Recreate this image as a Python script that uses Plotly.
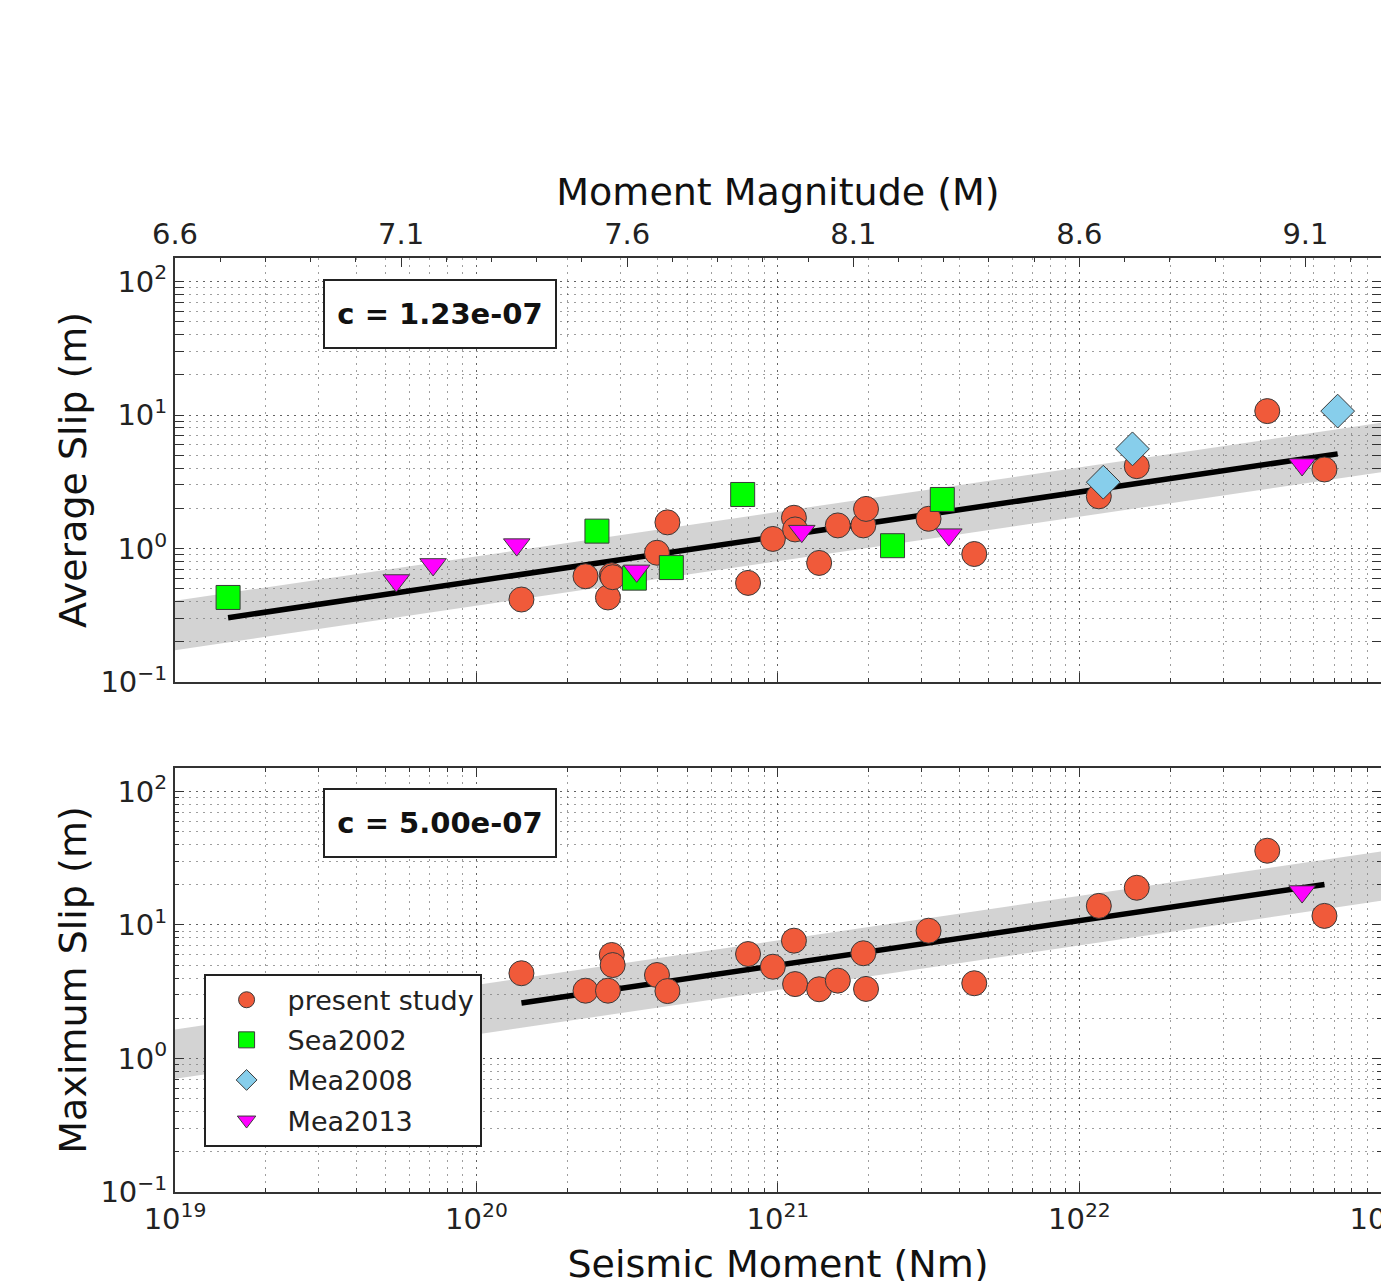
import numpy as np
import plotly.graph_objects as go

# ---------------- data ----------------
present_M0 = [1.41e20, 2.30e20, 2.73e20, 2.81e20, 2.83e20, 3.97e20, 4.30e20, 7.96e20,
              9.62e20, 1.13e21, 1.14e21, 1.37e21, 1.58e21, 1.92e21, 1.96e21, 3.16e21,
              4.48e21, 1.16e22, 1.55e22, 4.20e22, 6.50e22]
present_avg = [0.415, 0.62, 0.43, 0.63, 0.61, 0.93, 1.57, 0.553, 1.18, 1.70, 1.39, 0.78,
               1.49, 1.49, 1.98, 1.67, 0.91, 2.46, 4.14, 10.7, 3.91]
present_max = [4.35, 3.22, 3.22, 5.96, 5.01, 4.22, 3.20, 6.06, 4.87, 7.63, 3.61, 3.30,
               3.83, 6.14, 3.32, 9.06, 3.66, 13.9, 19.0, 36.0, 11.7]

sea2002_M0 = [1.50e19, 2.51e20, 3.34e20, 4.43e20, 7.64e20, 2.40e21, 3.51e21]
sea2002_avg = [0.43, 1.35, 0.60, 0.72, 2.54, 1.05, 2.33]

mea2008_M0 = [1.20e22, 1.50e22, 7.19e22]
mea2008_avg = [3.14, 5.58, 10.7]

mea2013_M0 = [5.42e19, 7.18e19, 1.36e20, 3.40e20, 1.20e21, 3.69e21, 5.48e22]
mea2013_avg = [0.576, 0.76, 1.07, 0.68, 1.35, 1.27, 4.26]
mea2013_max_M0 = [5.48e22]
mea2013_max = [17.8]

c_avg = 1.23e-07
c_max = 5.00e-07
fit_exponent = 1.0 / 3.0
band_log_halfwidth = 0.185

mag_ticks = [6.6, 7.1, 7.6, 8.1, 8.6, 9.1]
x_decades = [19, 20, 21, 22, 23]
y_decades = [-1, 0, 1, 2]
x_range_log = [19, 23.0005]
y_range_log = [-1, np.log10(150)]

# ---------------- styling ----------------
FONT = "DejaVu Sans"
C_RED = "#f05a3a"
C_GREEN = "#00ff00"
C_BLUE = "#87ceeb"
C_MAG = "#ff00ff"
EDGE = dict(color="#3a3a3a", width=1)
GRID = "rgba(0,0,0,0.38)"
GRIDDASH = "2px,5px"
BAND = "rgba(128,128,128,0.35)"

def pow_label(e):
    s = str(e).replace("-", "\u2212")
    return f"10<sup>{s}</sup>"

fig = go.Figure()

def band_and_line(c, xaxis, yaxis, line_M0):
    xb = np.array([10.0 ** x_range_log[0], 10.0 ** x_range_log[1]])
    yc = c * xb ** fit_exponent
    lo = yc / 10 ** band_log_halfwidth
    hi = yc * 10 ** band_log_halfwidth
    fig.add_trace(go.Scatter(x=list(xb) + list(xb[::-1]), y=list(hi) + list(lo[::-1]),
                             fill="toself", fillcolor=BAND, line=dict(width=0),
                             mode="lines", showlegend=False, hoverinfo="skip",
                             xaxis=xaxis, yaxis=yaxis))
    xl = np.array([min(line_M0), max(line_M0)])
    fig.add_trace(go.Scatter(x=xl, y=c * xl ** fit_exponent, mode="lines",
                             line=dict(color="black", width=5.5), showlegend=False,
                             xaxis=xaxis, yaxis=yaxis))

MS = 25
# top panel
all_top = present_M0 + sea2002_M0 + mea2008_M0 + mea2013_M0
band_and_line(c_avg, "x", "y", all_top)
fig.add_trace(go.Scatter(x=present_M0, y=present_avg, mode="markers", name="present study",
                         marker=dict(symbol="circle", size=MS, color=C_RED, line=EDGE),
                         xaxis="x", yaxis="y", showlegend=False))
fig.add_trace(go.Scatter(x=sea2002_M0, y=sea2002_avg, mode="markers", name="Sea2002",
                         marker=dict(symbol="square", size=24, color=C_GREEN, line=EDGE),
                         xaxis="x", yaxis="y", showlegend=False))
fig.add_trace(go.Scatter(x=mea2008_M0, y=mea2008_avg, mode="markers", name="Mea2008",
                         marker=dict(symbol="diamond", size=26, color=C_BLUE, line=EDGE),
                         xaxis="x", yaxis="y", showlegend=False))
fig.add_trace(go.Scatter(x=mea2013_M0, y=mea2013_avg, mode="markers", name="Mea2013",
                         marker=dict(symbol="triangle-down", size=23, color=C_MAG, line=EDGE),
                         xaxis="x", yaxis="y", showlegend=False))

# bottom panel
band_and_line(c_max, "x2", "y2", present_M0)
fig.add_trace(go.Scatter(x=present_M0, y=present_max, mode="markers", name="present study",
                         legendgroup="a",
                         marker=dict(symbol="circle", size=MS, color=C_RED, line=EDGE),
                         xaxis="x2", yaxis="y2"))
fig.add_trace(go.Scatter(x=[None], y=[None], mode="markers", name="Sea2002",
                         legendgroup="b",
                         marker=dict(symbol="square", size=24, color=C_GREEN, line=EDGE),
                         xaxis="x2", yaxis="y2"))
fig.add_trace(go.Scatter(x=[None], y=[None], mode="markers", name="Mea2008",
                         legendgroup="c",
                         marker=dict(symbol="diamond", size=26, color=C_BLUE, line=EDGE),
                         xaxis="x2", yaxis="y2"))
fig.add_trace(go.Scatter(x=mea2013_max_M0, y=mea2013_max, mode="markers", name="Mea2013",
                         legendgroup="d",
                         marker=dict(symbol="triangle-down", size=23, color=C_MAG, line=EDGE),
                         xaxis="x2", yaxis="y2"))

# invisible trace on magnitude axis so it is drawn
fig.add_trace(go.Scatter(x=[mag_ticks[0]], y=[1], mode="markers", marker=dict(opacity=0),
                         showlegend=False, hoverinfo="skip", xaxis="x3", yaxis="y"))

tickfont = dict(family=FONT, size=29, color="#222")
titlefont = dict(family=FONT, size=38, color="#111")
minor_log = dict(dtick="D1", showgrid=True, gridcolor=GRID, griddash=GRIDDASH, gridwidth=1,
                 ticks="inside", ticklen=4, tickcolor="#333")

def log_axis(decades, **kw):
    d = dict(type="log", tickvals=[10.0 ** e for e in decades],
             ticktext=[pow_label(e) for e in decades],
             showgrid=True, gridcolor=GRID,
             griddash=GRIDDASH, gridwidth=1, ticks="inside", ticklen=9, tickwidth=1,
             tickcolor="#333", showline=True, linecolor="#333", linewidth=2,
             tickfont=tickfont, minor=minor_log, zeroline=False, automargin=False,
             ticklabeloverflow="allow")
    d.update(kw)
    return d

ytop_dom = [0.546, 1.0]
ybot_dom = [0.0, 0.454]

# the page adds an 8px body margin, so figure margins are offset accordingly
fig.update_layout(
    width=1389, height=1281,
    margin=dict(l=167, r=16, t=250, b=97, autoexpand=False),
    paper_bgcolor="white", plot_bgcolor="white",
    font=dict(family=FONT, size=28, color="#222"),
    xaxis=log_axis(x_decades, range=x_range_log, anchor="y", showticklabels=False, mirror=False),
    yaxis=log_axis(y_decades, range=y_range_log, domain=ytop_dom, anchor="x", mirror="allticks",
                   title=dict(text="Average Slip (m)", font=titlefont, standoff=2)),
    xaxis2=log_axis(x_decades, range=x_range_log, anchor="y2", mirror="allticks",
                    title=dict(text="Seismic Moment (Nm)", font=titlefont, standoff=16)),
    yaxis2=log_axis(y_decades, range=y_range_log, domain=ybot_dom, anchor="x2", mirror="allticks",
                    title=dict(text="Maximum Slip (m)", font=titlefont, standoff=2)),
    xaxis3=dict(overlaying="x", anchor="y", side="top",
                range=[mag_ticks[0], (x_range_log[1] - 9.1) / 1.5],
                tickvals=mag_ticks, ticktext=[f"{m:.1f}" for m in mag_ticks],
                ticks="inside", ticklen=9, tickcolor="#333", showgrid=False,
                showline=True, linecolor="#333", linewidth=2, zeroline=False,
                tickfont=tickfont, automargin=False,
                minor=dict(dtick=0.1, ticks="inside", ticklen=4, tickcolor="#333", showgrid=False),
                title=dict(text="Moment Magnitude (M)", font=titlefont, standoff=0)),
    legend=dict(x=0.0237, y=0.0485, xanchor="left", yanchor="bottom",
                bgcolor="white", bordercolor="#222", borderwidth=2,
                font=dict(family=FONT, size=27, color="#222"),
                tracegroupgap=2, itemsizing="trace", itemwidth=72),
    showlegend=True,
)

box = dict(xref="paper", yref="paper", showarrow=False, bgcolor="white",
           xanchor="center", yanchor="middle",
           bordercolor="#222", borderwidth=2, borderpad=4, width=222, height=58,
           font=dict(family=FONT, size=29, color="#111"))
fig.add_annotation(x=0.2197, y=0.940, text=f"<b>c = {c_avg:.2e}</b>", **box)
fig.add_annotation(x=0.2197, y=0.395, text=f"<b>c = {c_max:.2e}</b>", **box)

fig.write_html("out.html")
